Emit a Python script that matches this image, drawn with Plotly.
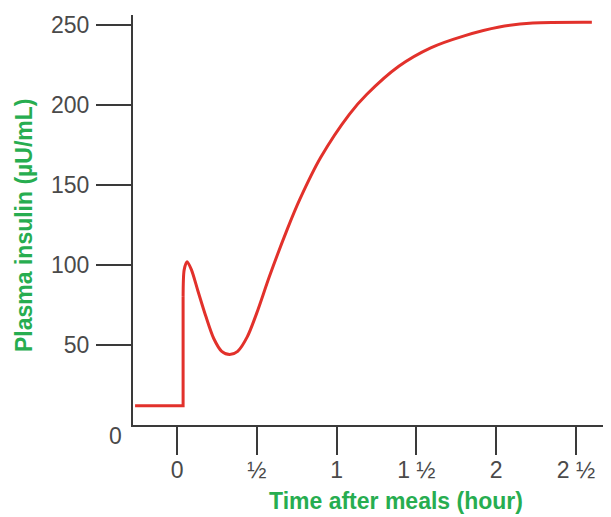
import plotly.graph_objects as go

# Data
baseline_time = [-0.263, 0.038, 0.038]
baseline_insulin = [12, 12, 80]

response_time = [0.038, 0.045, 0.063, 0.09, 0.13, 0.18, 0.23, 0.28, 0.33, 0.38,
                 0.44, 0.50, 0.58, 0.69, 0.77, 0.90, 1.08, 1.19, 1.39, 1.59,
                 1.80, 2.02, 2.23, 2.6]
response_insulin = [80, 97, 102, 97, 84, 68, 54, 46, 44, 46,
                    55, 70, 93, 122, 141, 167, 194, 206.5, 224, 235.5,
                    243, 248.5, 251, 251.5]

x_tick_vals = [0, 0.5, 1, 1.5, 2, 2.5]
x_tick_text = ["0", "½", "1", "1 ½", "2", "2 ½"]
y_tick_vals = [50, 100, 150, 200, 250]

RED = "#e2312b"
GREEN = "#27ad50"
AXIS = "#3a3a3a"
TICKFONT = dict(family="Liberation Sans, Arial, sans-serif", size=23, color="#4a4a4a")
TITLEFONT = dict(family="Liberation Sans, Arial, sans-serif", size=23, color=GREEN)

# page body has an 8px margin: plot area spans page x 133..611, y 15..425
PW, PH = 478, 410

fig = go.Figure()
fig.add_trace(go.Scatter(x=baseline_time, y=baseline_insulin, mode="lines",
                         line=dict(color=RED, width=3), showlegend=False,
                         hoverinfo="skip"))
fig.add_trace(go.Scatter(x=response_time, y=response_insulin, mode="lines",
                         line=dict(color=RED, width=3, shape="spline", smoothing=0.8),
                         showlegend=False))

fig.update_layout(
    width=603, height=509,
    margin=dict(l=125, r=0, t=7, b=92),
    paper_bgcolor="white", plot_bgcolor="white",
    xaxis=dict(range=[-0.276, 2.72], showgrid=False, zeroline=False,
               showline=True, linecolor=AXIS, linewidth=2,
               ticks="outside", ticklen=28, tickwidth=2, tickcolor=AXIS,
               tickvals=x_tick_vals, ticktext=x_tick_text, tickfont=TICKFONT,
               ticklabelstandoff=-5),
    yaxis=dict(range=[0, 256], showgrid=False, zeroline=False,
               showline=True, linecolor=AXIS, linewidth=2,
               ticks="outside", ticklen=35, tickwidth=2, tickcolor=AXIS,
               tickvals=y_tick_vals, tickfont=TICKFONT, ticklabelstandoff=2),
    annotations=[
        dict(text="0", xref="paper", yref="paper", x=-18/PW, y=-11/PH,
             xanchor="center", yanchor="middle", showarrow=False, font=TICKFONT),
        dict(text="<b>Time after meals (hour)</b>", xref="paper", yref="paper",
             x=(396-133)/PW, y=-(501-425)/PH, xanchor="center", yanchor="middle",
             showarrow=False, font=TITLEFONT),
        dict(text="<b>Plasma insulin (µU/mL)</b>", xref="paper", yref="paper",
             x=-(133-24)/PW, y=(425-225)/PH, xanchor="center", yanchor="middle",
             textangle=-90, showarrow=False, font=TITLEFONT),
    ],
)

fig.write_html("out.html")
